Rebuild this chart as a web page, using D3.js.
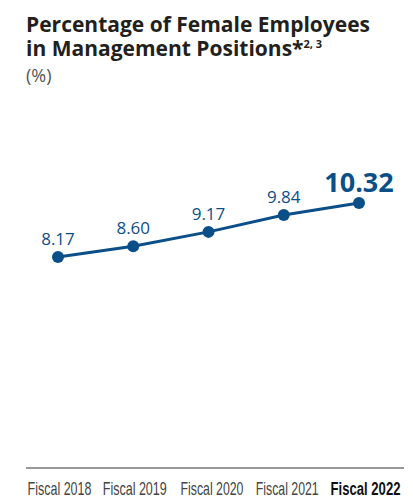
<!DOCTYPE html>
<html>
<head>
<meta charset="utf-8">
<script src="https://cdn.jsdelivr.net/npm/d3@7"></script>
<style>
  html, body { margin: 0; padding: 0; background: #fff; }
  svg { display: block; }
</style>
</head>
<body>
<svg id="chart" width="413" height="500"></svg>
<script>
// Fiscal years and the share of women in management (%)
const categories = ["Fiscal 2018", "Fiscal 2019", "Fiscal 2020", "Fiscal 2021", "Fiscal 2022"];
const values = [8.17, 8.60, 9.17, 9.84, 10.32];
const valueLabels = ["8.17", "8.60", "9.17", "9.84", "10.32"];

const svg = d3.select("#chart");

const lineColor = "#0b4f89";
const titleFont = "'Open Sans', 'Noto Sans', sans-serif";
const narrowFont = "'Liberation Sans Narrow', 'Liberation Sans', 'DejaVu Sans Condensed', sans-serif";

// Two-line title in a single text block
const title = svg.append("text")
  .attr("x", 26).attr("y", 32)
  .attr("font-family", titleFont)
  .attr("font-weight", 700)
  .attr("font-size", 21)
  .attr("fill", "#231f20");
title.append("tspan")
  .attr("x", 26)
  .text("Percentage of Female Employees");
title.append("tspan")
  .attr("x", 26).attr("dy", 24)
  .text("in Management Positions*");
title.append("tspan")
  .attr("font-size", 11)
  .attr("dy", -8)
  .text("2, 3");

svg.append("text")
  .attr("x", 26).attr("y", 82)
  .attr("font-family", titleFont)
  .attr("font-size", 18)
  .attr("fill", "#555")
  .text("(%)");

// Scales
const x = d3.scalePoint()
  .domain(categories)
  .range([58, 359]);

const y = d3.scaleLinear()
  .domain([6, 12])
  .range([311.5, 160.8]);

// Baseline axis with category labels
const axisY = 468;
svg.append("line")
  .attr("x1", 26).attr("x2", 404)
  .attr("y1", axisY).attr("y2", axisY)
  .attr("stroke", "#333").attr("stroke-width", 1.2);

const last = categories.length - 1;
const xAxis = d3.axisBottom(x).tickSize(0).tickPadding(0);
const gAxis = svg.append("g")
  .attr("transform", `translate(0,${axisY})`)
  .call(xAxis);
gAxis.select(".domain").remove();
// Condensed labels: squeeze each label horizontally to its target width
const labelWidth = [64, 64, 63, 63, 70];
const labelShift = [1, 1, 3, 3, 6];
gAxis.selectAll(".tick text")
  .attr("dy", null)
  .attr("y", 27)
  .attr("font-family", narrowFont)
  .attr("font-size", 18)
  .attr("fill", (d, i) => i === last ? "#111" : "#444")
  .attr("font-weight", (d, i) => i === last ? 700 : 400)
  .each(function(d, i) {
    const w = this.getComputedTextLength();
    const s = w > 0 ? Math.min(1, labelWidth[i] / w) : 1;
    d3.select(this).attr("transform", `translate(${labelShift[i]},0) scale(${s},1)`);
  });

// Line and markers
const line = d3.line()
  .x((d, i) => x(categories[i]))
  .y(d => y(d));

svg.append("path")
  .datum(values)
  .attr("d", line)
  .attr("fill", "none")
  .attr("stroke", lineColor)
  .attr("stroke-width", 3);

svg.selectAll("circle.pt")
  .data(values)
  .enter().append("circle")
  .attr("class", "pt")
  .attr("cx", (d, i) => x(categories[i]))
  .attr("cy", d => y(d))
  .attr("r", 6)
  .attr("fill", lineColor);

// Value labels
svg.selectAll("text.val")
  .data(values)
  .enter().append("text")
  .attr("class", "val")
  .attr("x", (d, i) => x(categories[i]))
  .attr("y", (d, i) => y(d) - (i === last ? 11 : 12))
  .attr("text-anchor", "middle")
  .attr("font-family", titleFont)
  .attr("font-size", (d, i) => i === last ? 27 : 17)
  .attr("font-weight", (d, i) => i === last ? 700 : 400)
  .attr("fill", lineColor)
  .text((d, i) => valueLabels[i]);
</script>
</body>
</html>
